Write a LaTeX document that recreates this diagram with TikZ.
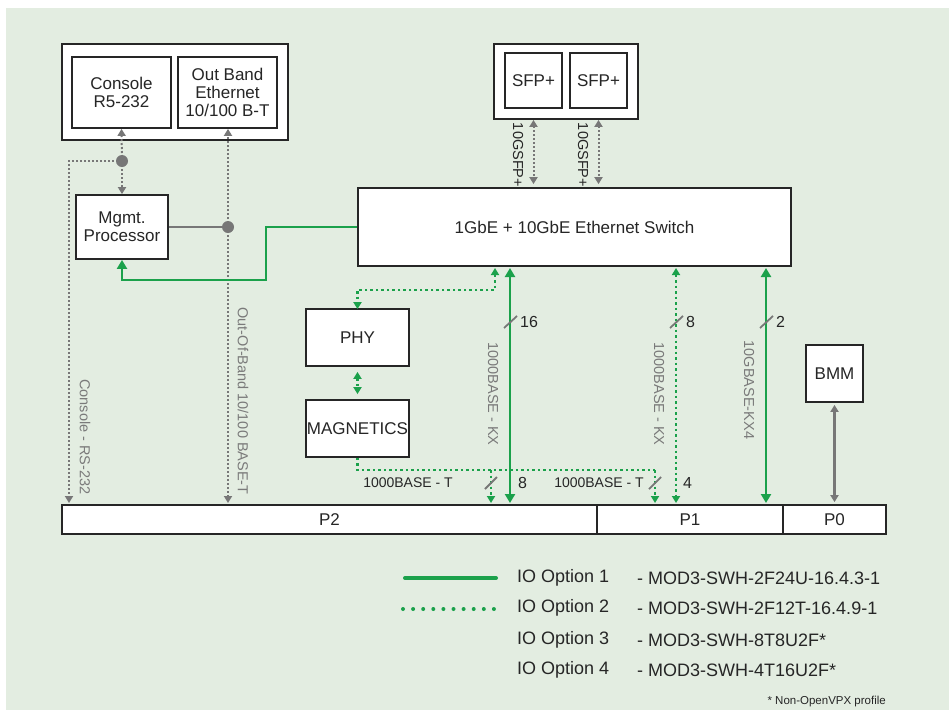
\documentclass[tikz,border=0pt]{standalone}
\usepackage{fontspec}
\setmainfont{Liberation Sans}
\usetikzlibrary{arrows.meta,calc}
\definecolor{bg}{HTML}{E3EDE1}
\definecolor{grn}{HTML}{1BA14B}
\definecolor{gry}{HTML}{777777}
\definecolor{txt}{HTML}{262626}
\definecolor{lbl}{HTML}{7A7A7A}
\begin{document}
\begin{tikzpicture}[x=1pt,y=-1pt,
  box/.style={draw=txt, line width=1.8pt, fill=white, inner sep=0pt, text=txt, align=center,
    font=\fontsize{17}{18}\selectfont},
  dotn/.style={circle, fill=gry, minimum size=12pt, inner sep=0pt},
  gdot/.style={draw=gry, line width=2pt, dash pattern=on 2pt off 2pt},
  gline/.style={draw=gry, line width=2.2pt},
  gsolid/.style={draw=grn, line width=2.8pt},
  grdot/.style={draw=grn, line width=2.5pt, dash pattern=on 2.5pt off 3pt},
  gtip/.tip={Triangle[length=7pt,width=8pt]},
  ttip/.tip={Triangle[length=9pt,width=10pt]},
  rlbl/.style={rotate=-90, text=lbl, font=\fontsize{14.5}{15}\selectfont, inner sep=0pt},
  num/.style={text=txt, font=\fontsize{16}{17}\selectfont, inner sep=0pt},
  blbl/.style={text=txt, font=\fontsize{14}{15}\selectfont, inner sep=0pt},
  slash/.style={draw=gry, line width=1.8pt},
  leg/.style={text=txt, font=\fontsize{18}{19}\selectfont, anchor=west, inner sep=0pt}
]
\useasboundingbox (0,0) rectangle (949,710);
\fill[bg] (6,8) rectangle (949,710);

% top-left group
\node[box, minimum width=226pt, minimum height=96pt] (outer) at (175,92) {};
\node[box, minimum width=99pt, minimum height=71pt] (console) at (121.5,92.5) {Console\\R5-232};
\node[box, minimum width=99pt, minimum height=71pt] (oob) at (227.5,92.5) {Out Band\\Ethernet\\10/100 B-T};
\node[box, minimum width=92pt, minimum height=64pt] (mgmt) at (122,227) {Mgmt.\\Processor};

% SFP group
\node[box, minimum width=144pt, minimum height=75pt] (sfpo) at (566,81.5) {};
\node[box, minimum width=57pt, minimum height=55pt] (sfp1) at (533.5,80.5) {SFP+};
\node[box, minimum width=57pt, minimum height=55pt] (sfp2) at (598.5,80.5) {SFP+};

% switch
\node[box, minimum width=433pt, minimum height=78pt] (sw) at (574.5,227) {1GbE + 10GbE Ethernet Switch};

% PHY, MAGNETICS, BMM
\node[box, minimum width=103pt, minimum height=57pt] (phy) at (357.5,337.5) {PHY};
\node[box, minimum width=103pt, minimum height=57pt] (mag) at (357.5,428.5) {MAGNETICS};
\node[box, minimum width=57pt, minimum height=57pt] (bmm) at (834.5,373.5) {BMM};

% backplane
\node[box, minimum width=535pt, minimum height=29pt] (p2) at (329.5,519.5) {P2};
\node[box, minimum width=186pt, minimum height=29pt] (p1) at (690,519.5) {P1};
\node[box, minimum width=103pt, minimum height=29pt] (p0) at (834.5,519.5) {P0};

% coordinates
\coordinate (d1c) at (122,161);
\coordinate (d2c) at (228,227);
\coordinate (cona) at (69,503);
\coordinate (oobb) at (228,503);
\coordinate (s1) at (495,268);
\coordinate (t1) at (491,470);
\coordinate (t2) at (655,470);
\coordinate (t1b) at (491,503);
\coordinate (t2b) at (655,503);
\coordinate (k1a) at (510,268);
\coordinate (k1b) at (510,503);
\coordinate (k2a) at (676,268);
\coordinate (k2b) at (676,503);
\coordinate (k3a) at (766,268);
\coordinate (k3b) at (766,503);

% gray dotted links
\draw[gdot,-{gtip[fill=gry]}] (d1c) -- (console.south);
\draw[gdot,-{gtip[fill=gry]}] (d1c) -- (mgmt.north);
\draw[gdot,-{gtip[fill=gry]}] (d1c) -| (cona);
\draw[gdot,-{gtip[fill=gry]}] (d2c) -- (oob.south -| d2c);
\draw[gdot,-{gtip[fill=gry]}] (d2c) -- (oobb);
\draw[gline] (mgmt.east) -- (d2c);
\node[dotn] (d1) at (d1c) {};
\node[dotn] (d2) at (d2c) {};

\node[rlbl] (lcon) at (85,437) {Console - RS-232};
\node[rlbl] (loob) at (243,401) {Out-Of-Band 10/100 BASE-T};

% SFP links
\draw[gdot,{gtip[fill=gry]}-{gtip[fill=gry]}] (sfp1.south |- sfpo.south) -- ([yshift=3pt]sfp1.south |- sw.north);
\draw[gdot,{gtip[fill=gry]}-{gtip[fill=gry]}] (sfp2.south |- sfpo.south) -- ([yshift=3pt]sfp2.south |- sw.north);
\node[rlbl, text=txt] (lsfp1) at (518,155) {10GSFP+};
\node[rlbl, text=txt] (lsfp2) at (583,155) {10GSFP+};

% green solid to Mgmt
\draw[gsolid,-{ttip[fill=grn]}] (sw.west) -| (266,280) -| (mgmt.south);

% PHY links
\draw[grdot,{gtip[fill=grn]}-{gtip[fill=grn]}] (s1) -- ++(0,22) -| ([yshift=-1pt]phy.north);
\draw[grdot,{gtip[fill=grn]}-{gtip[fill=grn]}] ([yshift=-5pt]phy.south) -- ([yshift=5pt]mag.north);
\draw[grdot] (mag.south) |- (t2);
\draw[grdot,-{gtip[fill=grn]}] (t1) -- (t1b);
\draw[grdot,-{gtip[fill=grn]}] (t2) -- (t2b);

% KX links
\draw[gsolid,{ttip[fill=grn]}-{ttip[fill=grn]}] (k1a) -- (k1b);
\draw[grdot,{gtip[fill=grn]}-{gtip[fill=grn]}] (k2a) -- (k2b);
\draw[gsolid,{ttip[fill=grn]}-{ttip[fill=grn]}] (k3a) -- (k3b);
\draw[gline,{gtip[fill=gry]}-{gtip[fill=gry]}] ([yshift=-2pt]bmm.south) -- ([yshift=2pt]bmm.south |- p0.north);

% slashes
\draw[slash] (504,328) -- (517,316);
\draw[slash] (670,328) -- (683,316);
\draw[slash] (760,328) -- (773,316);
\draw[slash] (485,489) -- (497,477);
\draw[slash] (649,489) -- (661,477);

\node[num, anchor=west] (n16) at (520,322) {16};
\node[num, anchor=west] (n8a) at (686,322) {8};
\node[num, anchor=west] (n2) at (776,322) {2};
\node[num, anchor=west] (n8b) at (518,483) {8};
\node[num, anchor=west] (n4) at (683,483) {4};
\node[blbl] (bt1) at (408,483) {1000BASE - T};
\node[blbl] (bt2) at (599,483) {1000BASE - T};

\node[rlbl] (kx1) at (493,394) {1000BASE - KX};
\node[rlbl] (kx2) at (659,394) {1000BASE - KX};
\node[rlbl] (kx4) at (749,390) {10GBASE-KX4};

% legend
\draw[draw=grn, line width=4pt, line cap=round] (405,578) -- (496,578);
\draw[draw=grn, line width=4pt, line cap=round, dash pattern=on 0pt off 10.1pt] (403,609) -- (498,609);
\node[leg] (o1) at (517,578) {IO Option 1};
\node[leg] (o2) at (517,608) {IO Option 2};
\node[leg] (o3) at (517,640) {IO Option 3};
\node[leg] (o4) at (517,670) {IO Option 4};
\node[leg] (m1) at (637,578) {- MOD3-SWH-2F24U-16.4.3-1};
\node[leg] (m2) at (637,608) {- MOD3-SWH-2F12T-16.4.9-1};
\node[leg] (m3) at (637,640) {- MOD3-SWH-8T8U2F*};
\node[leg] (m4) at (637,670) {- MOD3-SWH-4T16U2F*};
\node[text=txt, font=\fontsize{11.5}{12}\selectfont, anchor=north east, inner sep=0pt] (fn) at (886,696) {* Non-OpenVPX profile};
\end{tikzpicture}
\end{document}
